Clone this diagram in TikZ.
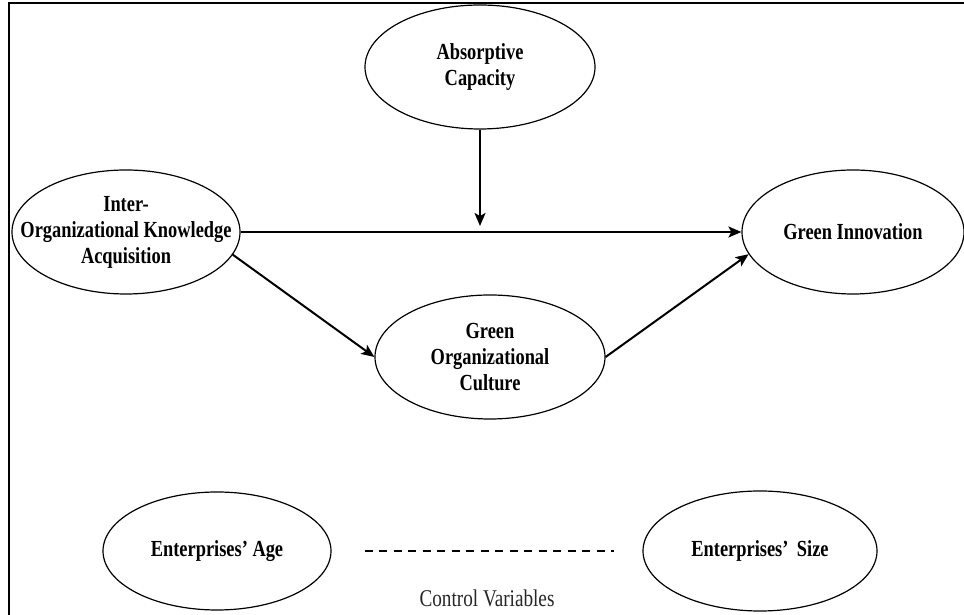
\documentclass[tikz,border=0pt]{standalone}
\usepackage{fontspec}
\setmainfont{Liberation Serif}[FakeStretch=0.8]
\usetikzlibrary{positioning,shapes.geometric,arrows.meta}

\begin{document}
\begin{tikzpicture}[x=1pt,y=1pt,
    every node/.style={on grid},
    var/.style={ellipse,draw,line width=1.2pt,inner xsep=-40pt,inner ysep=-30pt,
      align=center,minimum width=228pt,minimum height=124pt,
      font=\fontsize{23}{26}\selectfont\bfseries},
    link/.style={line width=2pt,-{Stealth[length=13pt,width=11pt,inset=3pt]}}]
    \useasboundingbox (0,0) rectangle (964,615);
    \draw[line width=2pt] (9,0) -- (9,612) -- (964,612);
    %\node (IOKA) {};
    \node[var] (IOKA) at (126,383) {Inter-\\Organizational Knowledge\\Acquisition};
    \node[var,minimum width=222pt,right=727pt of IOKA] (GI) {Green Innovation};
    \node[var,minimum width=230pt,above right=165pt and 354pt of IOKA] (AC) {Absorptive\\Capacity};
    \node[var,minimum width=230pt,below right=125pt and 364pt of IOKA] (GOC) {Green\\Organizational\\Culture};
    \node[var,minimum height=118pt] (AGE) at (217,64) {Enterprises' Age};
    \node[var,minimum width=234pt,minimum height=120pt,right=543pt of AGE] (SIZE) {Enterprises'\, Size};
    \coordinate (mod) at (AC.south |- IOKA.east);
    \draw[link] (IOKA.east) -- (GI.west);
    \draw[link,shorten >=6pt] (AC.south) -- (mod);
    \draw[link] (IOKA.-12) -- (GOC.west);
    \draw[link] (GOC.east) -- (GI.192);
    %\draw (AGE) -- (SIZE);
    \draw[line width=2pt,dash pattern=on 8pt off 6.5pt]
      ([xshift=33pt]AGE.east) -- ([xshift=-28pt]SIZE.west);
    \node[font=\fontsize{24}{26}\selectfont,text=black!85] (ctrl) at (487,17) {Control Variables};
  \end{tikzpicture}
\end{document}
